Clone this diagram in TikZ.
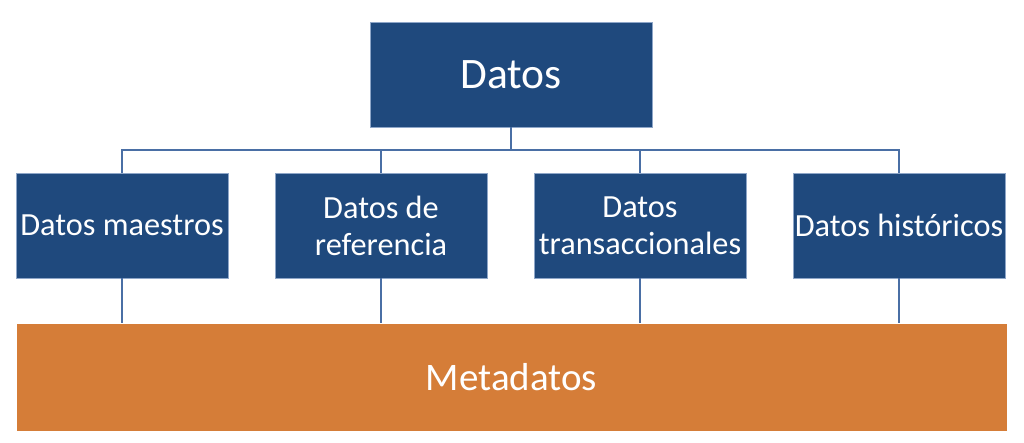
\documentclass[tikz,border=0pt]{standalone}
\usepackage{fontspec}
\setmainfont{Carlito}
\definecolor{boxblue}{HTML}{1F497D}
\definecolor{edgeblue}{HTML}{8EA6C8}
\definecolor{lineblue}{HTML}{4A6FA5}
\definecolor{metaorange}{HTML}{D57D38}
\begin{document}
\begin{tikzpicture}[x=1pt,y=-1pt,
  bluebox/.style={draw=edgeblue,line width=0.8pt,fill=boxblue,text=white,inner sep=0pt,align=center,font=\fontsize{32.3}{37}\selectfont},
  conn/.style={draw=lineblue,line width=1.6pt}]
\useasboundingbox (0,0) rectangle (1024,442);
\node[bluebox,minimum width=282pt,minimum height=105pt,font=\fontsize{43.5}{50}\selectfont] (top) at (511,74.5) {Datos};
\node[bluebox,minimum width=212pt,minimum height=105pt] (b1) at (122,225.5) {Datos maestros};
\node[bluebox,minimum width=212pt,minimum height=105pt] (b2) at (381,225.5) {Datos de\\referencia};
\node[bluebox,minimum width=212pt,minimum height=105pt] (b3) at (640,225.5) {Datos\\transaccionales};
\node[bluebox,minimum width=212pt,minimum height=105pt] (b4) at (899,225.5) {Datos históricos};
\node[draw=white,line width=0.8pt,fill=metaorange,text=white,minimum width=991pt,minimum height=108pt,inner sep=0pt,font=\fontsize{39}{46}\selectfont] (meta) at (511.5,377) {Metadatos};
\coordinate (bar) at (511,150);
\draw[conn] (top.south) -- (bar);
\draw[conn] (b1.north) |- (bar) -| (b4.north);
\draw[conn] (b2.north) -- (b2.north |- bar);
\draw[conn] (b3.north) -- (b3.north |- bar);
\foreach \b in {b1,b2,b3,b4} \draw[conn] (\b.south) -- (\b.south |- meta.north);
\end{tikzpicture}
\end{document}
